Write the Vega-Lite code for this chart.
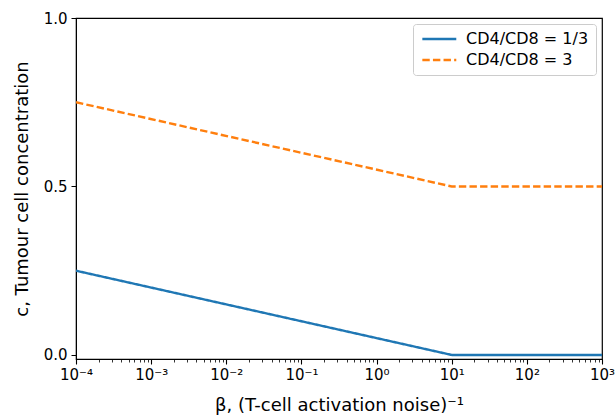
{
  "$schema": "https://vega.github.io/schema/vega-lite/v6.json",
  "autosize": "none",
  "width": 526,
  "height": 341,
  "padding": {"left": 76, "top": 18, "right": 14, "bottom": 58},
  "background": "white",
  "config": {
    "font": "DejaVu Sans",
    "view": {"stroke": "black", "strokeWidth": 1.2},
    "axis": {"grid": false, "domainColor": "black", "tickColor": "black", "labelColor": "black", "titleColor": "black", "labelFontSize": 15, "titleFontSize": 18, "titleFontWeight": "normal", "labelFont": "DejaVu Sans", "titleFont": "DejaVu Sans"}
  },
  "data": {
    "values": [
      {"beta": 0.0001, "c": 0.25, "series": "CD4/CD8 = 1/3"},
      {"beta": 10, "c": 0.0, "series": "CD4/CD8 = 1/3"},
      {"beta": 1000, "c": 0.0, "series": "CD4/CD8 = 1/3"},
      {"beta": 0.0001, "c": 0.75, "series": "CD4/CD8 = 3"},
      {"beta": 10, "c": 0.5, "series": "CD4/CD8 = 3"},
      {"beta": 1000, "c": 0.5, "series": "CD4/CD8 = 3"}
    ]
  },
  "mark": {"type": "line", "strokeWidth": 2.4, "clip": true},
  "encoding": {
    "x": {
      "field": "beta", "type": "quantitative",
      "scale": {"type": "log", "domain": [0.0001, 1000], "nice": false},
      "axis": {
        "title": "β, (T-cell activation noise)⁻¹",
        "titlePadding": 14,
        "values": [0.0001,0.0002,0.0003,0.0004,0.0005,0.0006,0.0007,0.0008,0.0009,
                   0.001,0.002,0.003,0.004,0.005,0.006,0.007,0.008,0.009,
                   0.01,0.02,0.03,0.04,0.05,0.06,0.07,0.08,0.09,
                   0.1,0.2,0.3,0.4,0.5,0.6,0.7,0.8,0.9,
                   1,2,3,4,5,6,7,8,9,
                   10,20,30,40,50,60,70,80,90,
                   100,200,300,400,500,600,700,800,900,1000],
        "labelExpr": "abs(log(datum.value)/LN10 - round(log(datum.value)/LN10)) < 1e-6 ? '10' + ({'-4':'⁻⁴','-3':'⁻³','-2':'⁻²','-1':'⁻¹','0':'⁰','1':'¹','2':'²','3':'³'})[''+round(log(datum.value)/LN10)] : ''",
        "labelOverlap": false,
        "labelFlush": false,
        "labelPadding": 3,
        "tickSize": {"condition": {"test": "abs(log(datum.value)/LN10 - round(log(datum.value)/LN10)) < 1e-6", "value": 5}, "value": 3},
        "tickWidth": {"condition": {"test": "abs(log(datum.value)/LN10 - round(log(datum.value)/LN10)) < 1e-6", "value": 1.1}, "value": 0.8}
      }
    },
    "y": {
      "field": "c", "type": "quantitative",
      "scale": {"domain": [-0.012, 1.0], "nice": false, "zero": false},
      "axis": {"title": "c, Tumour cell concentration", "values": [0, 0.5, 1.0], "format": ".1f", "tickSize": 5, "labelPadding": 4, "titlePadding": 12}
    },
    "color": {
      "field": "series", "type": "nominal",
      "scale": {"domain": ["CD4/CD8 = 1/3", "CD4/CD8 = 3"], "range": ["#1f77b4", "#ff7f0e"]},
      "legend": {
        "title": null, "orient": "top-right", "offset": 6,
        "labelFontSize": 16, "labelFont": "DejaVu Sans", "labelColor": "black",
        "symbolType": "M-1,0H5", "symbolSize": 128, "symbolStrokeWidth": 2.4,
        "strokeColor": "#cccccc", "fillColor": "white", "cornerRadius": 3, "padding": 7, "rowPadding": 5, "labelOffset": 30
      }
    },
    "strokeDash": {
      "field": "series", "type": "nominal",
      "scale": {"domain": ["CD4/CD8 = 1/3", "CD4/CD8 = 3"], "range": [[1, 0], [7.4, 3.2]]},
      "legend": {
        "title": null, "orient": "top-right", "offset": 6,
        "labelFontSize": 16, "labelFont": "DejaVu Sans", "labelColor": "black",
        "symbolType": "M-1,0H5", "symbolSize": 128, "symbolStrokeWidth": 2.4,
        "strokeColor": "#cccccc", "fillColor": "white", "cornerRadius": 3, "padding": 7, "rowPadding": 5, "labelOffset": 30
      }
    }
  }
}
